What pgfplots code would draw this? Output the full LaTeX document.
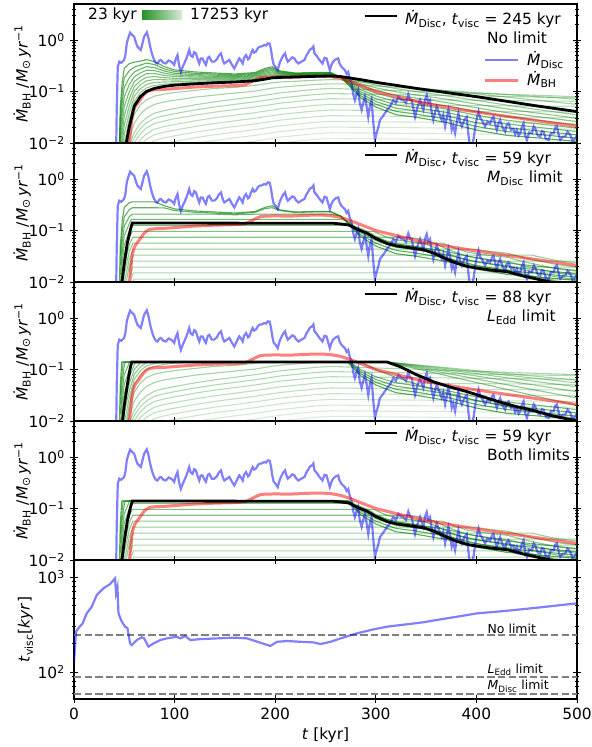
\documentclass[border=0pt]{standalone}
\usepackage{fontspec}
\setmainfont{DejaVu Sans}
\usepackage{pgfplots}
\usepackage{pgfplotstable}
\pgfplotsset{compat=1.18}

\definecolor{grn}{RGB}{0,128,0}
\definecolor{dashgray}{RGB}{128,128,128}
\newcommand{\Mdot}{\textit{Ṁ}}

% inflow rate onto the disc (shared by the four rate panels)
\pgfplotstableread{
t v
41.5 0.002
42.5 0.05
43.5 0.3
45 0.38
47 0.36
49.8 0.41
51 0.5
52.5 0.87
54 1.1
55.8 1.39
57 1.3
59.8 1.16
61.5 0.9
63.1 0.74
65 0.68
66.4 0.64
68 0.85
69.7 1.16
72.4 1.41
74 1.1
75.7 0.74
78 0.5
79.7 0.41
81.5 0.36
83 0.35
85 0.4
86.3 0.41
89 0.36
91.3 0.35
94 0.4
96.3 0.38
98 0.36
99.6 0.33
101 0.42
102.9 0.51
104.5 0.32
106.2 0.24
108 0.3
109.6 0.35
112 0.45
114.5 0.64
116 0.5
117.9 0.47
119.5 0.58
121.2 0.55
123 0.42
124.5 0.35
126 0.44
127.8 0.44
129.5 0.37
131.1 0.33
133 0.45
134.5 0.47
137 0.38
139.4 0.38
142 0.42
144 0.5
146.1 0.55
148 0.4
149.4 0.35
152 0.38
154.4 0.41
157 0.33
159.4 0.28
162 0.36
164.3 0.44
166 0.4
167.7 0.35
169 0.45
171 0.51
173 0.42
174.3 0.44
176 0.55
177.6 0.64
179 0.57
180.9 0.6
183 0.7
184.3 0.74
186.5 0.75
189.2 0.8
191 0.78
192.6 0.86
194.5 0.85
195.9 0.64
197 0.45
198.5 0.33
200.5 0.3
202.5 0.26
204.5 0.36
206.5 0.44
208 0.5
209.8 0.55
211 0.45
212.5 0.38
215 0.42
217 0.46
219.1 0.44
221 0.38
223.1 0.35
226 0.38
229.1 0.41
231 0.5
232.4 0.55
234.5 0.65
236.4 0.68
238 0.75
239 0.55
241 0.5
244 0.41
247 0.35
249 0.45
251 0.44
254.3 0.26
256 0.33
257.6 0.38
260 0.42
262.6 0.44
264 0.35
265.9 0.3
267.5 0.28
269.3 0.26
271 0.22
272.6 0.24
274 0.18
275.9 0.144
277.5 0.09
279.2 0.068
281 0.09
282.5 0.107
284 0.06
285.9 0.044
287.5 0.06
289.2 0.079
291 0.05
292.5 0.032
294 0.05
295.8 0.068
297.5 0.025
299.1 0.0115
300.8 0.0155
302.5 0.02
304.1 0.028
306.5 0.032
309.1 0.038
311.5 0.045
314.1 0.051
317.4 0.068
320 0.06
322.4 0.079
325 0.07
327.4 0.068
330 0.06
332.3 0.088
334 0.07
335.7 0.068
337.5 0.045
339 0.032
341.5 0.05
344 0.068
345.5 0.055
347.3 0.044
349 0.07
350.6 0.085
352 0.06
353.9 0.068
355.5 0.04
357.2 0.028
359 0.04
360.6 0.051
362.5 0.04
365.5 0.028
367 0.035
368.9 0.021
370.5 0.03
372.2 0.044
374 0.03
375.5 0.018
377 0.022
378.8 0.0155
380.5 0.025
382.1 0.038
384 0.025
385.5 0.021
388 0.028
390.4 0.032
392 0.015
393.8 0.008
395.5 0.009
397.1 0.0115
399.5 0.025
402.1 0.041
404 0.03
405.4 0.028
407 0.024
408.7 0.021
411 0.026
413.7 0.024
415.5 0.03
417 0.032
419 0.022
420.3 0.018
422 0.024
423.6 0.028
426 0.02
428.6 0.0166
430 0.022
431.9 0.024
434.5 0.018
436.9 0.019
438.5 0.015
440.2 0.018
442 0.014
443.6 0.0155
445 0.02
446.9 0.024
448.5 0.014
450.2 0.0115
452.5 0.016
455.2 0.0155
457 0.021
458.5 0.019
461 0.014
463.5 0.0133
465 0.017
466.8 0.0166
469 0.012
471.8 0.0115
474 0.0155
476.8 0.0155
478.5 0.02
480.1 0.021
482 0.014
483.4 0.0115
486 0.0133
488.4 0.0133
490.5 0.0166
493.4 0.0143
495.5 0.011
498.3 0.0123
500 0.0143
}\disctab

% accretion rate onto the black hole
\pgfplotstableread{
t v
50 0.002
54 0.006
56 0.015
57.5 0.03
59 0.042
61 0.052
63 0.058
66 0.07
69 0.085
72 0.097
75 0.105
80 0.108
90 0.11
100 0.114
120 0.122
140 0.127
160 0.13
170 0.135
175 0.15
180 0.168
185 0.185
190 0.19
200 0.192
215 0.19
230 0.197
245 0.2
255 0.195
265 0.18
275 0.155
285 0.13
300 0.1
320 0.08
350 0.058
400 0.04
450 0.029
500 0.021
}\bhtab

% viscous time fitted at each snapshot
\pgfplotstableread{
t v
0 128
2 266
4.3 288
8.6 325
12.6 414
17.6 486
22.6 646
29.2 760
35.9 843
40.8 968
41.8 676
43.2 780
44.2 414
47.5 339
50.8 300
53.1 290
55.8 200
57.4 192
59.1 200
62.4 217
67.4 232
69.7 226
74 185
79 200
85.7 217
92.3 226
99 232
102.3 235
105.6 226
110.6 239
115.6 217
125.5 222
142.1 226
158.7 230
172 226
181.9 209
195.2 188
201.8 208
211.8 212
225.1 208
238 205
245 197
255 208
265 226
281 255
297.8 281
311 300
331 318
347.4 334
360.6 353
380.6 382
400.4 414
430.2 441
463.3 479
499.7 528
}\tvisctab

\tikzset{
  gline/.style={grn, line width=1.1bp, opacity=#1},
  discline/.style={blue, opacity=0.5, line width=2.2bp},
  bhline/.style={red, opacity=0.5, line width=3bp},
  fitline/.style={black, line width=2.8bp},
  dashline/.style={dashgray, line width=2bp, dash pattern=on 7.4bp off 3.2bp},
}

\pgfplotsset{
  every axis/.append style={
    scale only axis, width=503bp, height=139bp,
    xmin=0, xmax=500,
    xtick={0,100,200,300,400,500},
    xtick pos=left, ytick pos=both,
    tick align=center,
    major tick length=8bp, minor tick length=4.5bp,
    tick style={black, line width=0.8bp},
    axis line style={line width=1.1bp},
  },
}

\newcommand{\ratelabel}{\Mdot\textsubscript{BH} /\textit{M}\textsubscript{⊙}\,\textit{yr}\textsuperscript{−1}}

\begin{document}
\fontsize{15.5}{18}\selectfont
\begin{tikzpicture}
\path[use as bounding box] (0,0) rectangle (592bp,-747bp);

% ---------------- panel 1: no limit ----------------
\begin{axis}[at={(74bp,-143bp)}, anchor=south west, ymode=log, ymin=0.01, ymax=5,
    ytick={0.01,0.1,1},
    yticklabels={10\textsuperscript{−2},10\textsuperscript{−1},10\textsuperscript{0}},
    minor ytick={0.02,0.03,0.04,0.05,0.06,0.07,0.08,0.09,0.2,0.3,0.4,0.5,0.6,0.7,0.8,0.9,2,3,4},
    xticklabels={}, ylabel={\ratelabel},
    ylabel style={at={(axis description cs:-0.103,0.5)}, anchor=center}]
\addplot[gline=0.14] coordinates {(100,0.005)(120,0.00589)(140,0.00677)(160,0.00759)(180,0.00851)(190,0.00911)(197,0.00954)(205,0.0101)(220,0.0108)(240,0.0118)(255,0.0123)(500,0.0112)};
\addplot[gline=0.16] coordinates {(72,0.00425)(80,0.00523)(90,0.00588)(100,0.00643)(120,0.00757)(140,0.00869)(160,0.00975)(180,0.0109)(190,0.0117)(197,0.0123)(205,0.013)(220,0.0139)(240,0.0152)(255,0.0158)(500,0.0145)};
\addplot[gline=0.18] coordinates {(66,0.00426)(72,0.00549)(80,0.00675)(90,0.00759)(100,0.0083)(120,0.00977)(140,0.0112)(160,0.0126)(180,0.0141)(190,0.0151)(197,0.0158)(205,0.0167)(220,0.0179)(240,0.0196)(255,0.0204)(500,0.0186)};
\addplot[gline=0.20] coordinates {(60,0.00371)(66,0.0055)(72,0.00707)(80,0.0087)(90,0.0098)(100,0.0107)(120,0.0126)(140,0.0145)(160,0.0162)(180,0.0182)(190,0.0195)(197,0.0204)(205,0.0216)(220,0.0231)(240,0.0252)(255,0.0263)(500,0.024)};
\addplot[gline=0.22] coordinates {(60,0.00478)(66,0.00709)(72,0.00912)(80,0.0112)(90,0.0126)(100,0.0138)(120,0.0162)(140,0.0186)(160,0.0209)(180,0.0235)(190,0.0251)(197,0.0263)(205,0.0278)(220,0.0298)(240,0.0325)(255,0.0339)(500,0.0309)};
\addplot[gline=0.25] coordinates {(55,0.00347)(60,0.00616)(66,0.00913)(72,0.0118)(80,0.0145)(90,0.0163)(100,0.0178)(120,0.0209)(140,0.024)(160,0.027)(180,0.0302)(190,0.0324)(197,0.0339)(205,0.0358)(220,0.0384)(240,0.0419)(255,0.0437)(500,0.0398)};
\addplot[gline=0.27] coordinates {(55,0.00446)(60,0.00792)(66,0.0117)(72,0.0151)(80,0.0186)(90,0.0209)(100,0.0229)(120,0.0269)(140,0.0309)(160,0.0347)(180,0.0389)(190,0.0416)(197,0.0436)(205,0.0461)(220,0.0494)(240,0.0539)(255,0.0562)(500,0.0513)};
\addplot[gline=0.29] coordinates {(50,0.00219)(55,0.00575)(60,0.0102)(66,0.0151)(72,0.0195)(80,0.024)(90,0.0269)(100,0.0295)(120,0.0347)(140,0.0398)(160,0.0447)(180,0.0501)(190,0.0536)(197,0.0562)(205,0.0594)(220,0.0636)(240,0.0694)(255,0.0724)(500,0.0646)};
\addplot[gline=0.31] coordinates {(50,0.00275)(55,0.00724)(60,0.0129)(66,0.0191)(72,0.0245)(80,0.0302)(90,0.0339)(100,0.0371)(120,0.0437)(140,0.0502)(160,0.0563)(180,0.0631)(190,0.0676)(197,0.0708)(205,0.0748)(220,0.0802)(240,0.0875)(255,0.0912)(500,0.0759)};
\addplot[gline=0.33] coordinates {(46,0.00057)(48,0.00173)(50,0.00347)(55,0.00912)(60,0.0162)(66,0.024)(72,0.0309)(80,0.038)(90,0.0427)(100,0.0467)(120,0.055)(140,0.0631)(160,0.0708)(180,0.0794)(190,0.0851)(197,0.0891)(205,0.0941)(220,0.1009)(240,0.110)(255,0.1148)(500,0.0794)};
\addplot[gline=0.35] coordinates {(48,0.002)(50,0.0044)(55,0.0123)(60,0.0245)(66,0.0363)(72,0.0468)(80,0.0562)(90,0.0631)(100,0.0676)(120,0.0776)(140,0.0851)(160,0.0933)(180,0.102)(190,0.110)(197,0.116)(205,0.121)(220,0.128)(240,0.137)(255,0.141)(270,0.140)(500,0.0708)};
\addplot[gline=0.37] coordinates {(46,0.00085)(48,0.0023)(50,0.0052)(55,0.0162)(60,0.0363)(66,0.055)(72,0.0692)(80,0.0813)(90,0.0891)(100,0.0955)(120,0.105)(140,0.115)(160,0.120)(180,0.132)(190,0.141)(197,0.148)(205,0.153)(220,0.158)(240,0.166)(255,0.170)(265,0.168)(500,0.0562)};
\addplot[gline=0.39] coordinates {(46,0.001)(48,0.0025)(50,0.0063)(55,0.0209)(60,0.0525)(66,0.0794)(72,0.1)(80,0.115)(90,0.126)(100,0.133)(120,0.141)(140,0.148)(160,0.153)(180,0.162)(190,0.174)(197,0.184)(205,0.188)(220,0.191)(240,0.197)(255,0.200)(265,0.195)(275,0.182)(285,0.170)(300,0.151)(320,0.132)(340,0.115)(370,0.0955)(400,0.0794)(430,0.0646)(460,0.0525)(500,0.0407)};
\addplot[gline=0.41] coordinates {(46,0.0016)(48,0.004)(50,0.0096)(55,0.0286)(60,0.0652)(66,0.0948)(72,0.117)(80,0.131)(90,0.139)(100,0.144)(120,0.150)(140,0.155)(160,0.159)(180,0.169)(190,0.183)(197,0.195)(205,0.195)(220,0.195)(240,0.201)(255,0.203)(265,0.195)(275,0.174)(285,0.155)(300,0.134)(320,0.114)(340,0.0995)(370,0.0824)(400,0.0673)(430,0.0546)(460,0.0448)(500,0.0352)};
\addplot[gline=0.44] coordinates {(46,0.0024)(48,0.0063)(50,0.0147)(55,0.039)(60,0.081)(66,0.113)(72,0.137)(80,0.150)(90,0.153)(100,0.155)(120,0.159)(140,0.163)(160,0.166)(180,0.176)(190,0.194)(197,0.206)(205,0.201)(220,0.199)(240,0.205)(255,0.207)(265,0.194)(275,0.166)(285,0.142)(300,0.118)(320,0.0985)(340,0.0863)(370,0.0710)(400,0.0570)(430,0.0460)(460,0.0382)(500,0.0303)};
\addplot[gline=0.47] coordinates {(46,0.0037)(48,0.010)(50,0.0224)(55,0.0533)(60,0.101)(66,0.135)(72,0.161)(80,0.171)(90,0.169)(100,0.167)(120,0.169)(140,0.171)(160,0.173)(180,0.183)(190,0.204)(197,0.217)(205,0.207)(220,0.203)(240,0.209)(255,0.210)(265,0.194)(275,0.158)(285,0.130)(300,0.105)(320,0.0851)(340,0.0747)(370,0.0612)(400,0.0482)(430,0.0389)(460,0.0326)(500,0.0261)};
\addplot[gline=0.50] coordinates {(44,0.001)(46,0.0057)(48,0.0158)(50,0.0341)(55,0.0728)(60,0.125)(66,0.161)(72,0.189)(80,0.195)(90,0.186)(100,0.180)(120,0.179)(140,0.180)(160,0.180)(180,0.191)(190,0.215)(197,0.230)(205,0.214)(220,0.207)(240,0.213)(255,0.214)(265,0.193)(275,0.151)(285,0.119)(300,0.0926)(320,0.0736)(340,0.0647)(370,0.0527)(400,0.0408)(430,0.0329)(460,0.0278)(500,0.0225)};
\addplot[gline=0.53] coordinates {(44,0.001)(46,0.0088)(48,0.025)(50,0.0521)(55,0.0995)(60,0.156)(66,0.192)(72,0.221)(80,0.223)(90,0.205)(100,0.195)(120,0.190)(140,0.189)(160,0.187)(180,0.199)(190,0.227)(197,0.242)(205,0.221)(220,0.211)(240,0.217)(255,0.218)(265,0.193)(275,0.145)(285,0.109)(300,0.0819)(320,0.0636)(340,0.0561)(370,0.0455)(400,0.0346)(430,0.0277)(460,0.0238)(500,0.0194)};
\addplot[gline=0.56] coordinates {(44,0.001)(46,0.0136)(48,0.040)(50,0.0794)(55,0.136)(60,0.194)(66,0.229)(72,0.259)(80,0.255)(90,0.226)(100,0.210)(120,0.201)(140,0.198)(160,0.194)(180,0.207)(190,0.240)(197,0.256)(205,0.228)(220,0.215)(240,0.221)(255,0.222)(265,0.192)(275,0.138)(285,0.0993)(300,0.0724)(320,0.0550)(340,0.0486)(370,0.0392)(400,0.0293)(430,0.0234)(460,0.0203)(500,0.0167)};
\addplot[gline=0.59] coordinates {(44,0.001)(46,0.021)(48,0.063)(50,0.121)(55,0.186)(60,0.240)(66,0.273)(72,0.303)(80,0.291)(90,0.249)(100,0.226)(120,0.213)(140,0.208)(160,0.202)(180,0.216)(190,0.253)(197,0.270)(205,0.236)(220,0.220)(240,0.225)(255,0.226)(265,0.192)(275,0.132)(285,0.0908)(300,0.0641)(320,0.0475)(340,0.0421)(370,0.0338)(400,0.0248)(430,0.0198)(460,0.0173)(500,0.0144)};
\addplot[gline=0.62] coordinates {(44,0.001)(46,0.0324)(48,0.1)(50,0.185)(55,0.254)(60,0.299)(66,0.326)(72,0.356)(80,0.333)(90,0.274)(100,0.244)(120,0.226)(140,0.218)(160,0.210)(180,0.225)(190,0.267)(197,0.286)(205,0.243)(220,0.224)(240,0.230)(255,0.230)(265,0.191)(275,0.126)(285,0.0830)(300,0.0567)(320,0.0411)(340,0.0365)(370,0.0291)(400,0.0210)(430,0.0167)(460,0.0148)(500,0.0124)};
\addplot[gline=0.66] coordinates {(44,0.001)(46,0.050)(48,0.158)(50,0.282)(55,0.347)(60,0.372)(66,0.389)(72,0.417)(80,0.380)(90,0.302)(100,0.263)(120,0.240)(140,0.229)(160,0.219)(180,0.234)(190,0.282)(197,0.302)(205,0.251)(220,0.229)(240,0.234)(255,0.234)(265,0.191)(275,0.120)(285,0.0759)(300,0.0501)(320,0.0355)(340,0.0316)(370,0.0251)(400,0.0178)(430,0.0141)(460,0.0126)(500,0.0107)};
\addplot[discline] table[x=t,y=v] {\disctab};
\addplot[bhline] table[x=t,y=v] {\bhtab};
\addplot[fitline] coordinates {(46,0.001)(48,0.0025)(50,0.0063)(55,0.0209)(60,0.0525)(66,0.0794)(72,0.1)(80,0.115)(90,0.126)(100,0.133)(120,0.141)(140,0.148)(160,0.153)(180,0.162)(190,0.174)(197,0.184)(205,0.188)(220,0.191)(240,0.197)(255,0.200)(265,0.195)(275,0.182)(285,0.170)(300,0.151)(320,0.132)(340,0.115)(370,0.0955)(400,0.0794)(430,0.0646)(460,0.0525)(500,0.0407)};
\draw[fitline] (rel axis cs:0.5785,0.914) -- (rel axis cs:0.642,0.914);
\node[anchor=base west, inner sep=0pt] at (rel axis cs:0.658,0.856) {\Mdot\textsubscript{Disc}, \textit{t}\textsubscript{visc} = 245 kyr};
\node[anchor=base west, inner sep=0pt] at (rel axis cs:0.821,0.719) {No limit};
\draw[discline] (rel axis cs:0.817,0.597) -- (rel axis cs:0.883,0.597);
\node[anchor=base west, inner sep=0pt] at (rel axis cs:0.9006,0.561) {\Mdot\textsubscript{Disc}};
\draw[bhline] (rel axis cs:0.817,0.453) -- (rel axis cs:0.883,0.453);
\node[anchor=base west, inner sep=0pt] at (rel axis cs:0.9006,0.417) {\Mdot\textsubscript{BH}};
\end{axis}

% ---------------- panel 2: disc-mass limit ----------------
\begin{axis}[at={(74bp,-282bp)}, anchor=south west, ymode=log, ymin=0.01, ymax=5,
    ytick={0.01,0.1,1},
    yticklabels={10\textsuperscript{−2},10\textsuperscript{−1},10\textsuperscript{0}},
    minor ytick={0.02,0.03,0.04,0.05,0.06,0.07,0.08,0.09,0.2,0.3,0.4,0.5,0.6,0.7,0.8,0.9,2,3,4},
    xticklabels={}, ylabel={\ratelabel},
    ylabel style={at={(axis description cs:-0.103,0.5)}, anchor=center}]
\addplot[gline=0.31] coordinates {(55,0.0072)(59.5,0.0114)(500,0.0114)};
\addplot[gline=0.33] coordinates {(55,0.0091)(59,0.015)(500,0.015)};
\addplot[gline=0.35] coordinates {(55,0.0123)(58.5,0.0195)(500,0.0195)};
\addplot[gline=0.37] coordinates {(55,0.0162)(58,0.0255)(500,0.0255)};
\addplot[gline=0.39] coordinates {(50,0.0063)(55,0.0209)(59,0.0333)(455,0.0333)(464,0.0303)(480,0.0261)(500,0.0234)};
\addplot[gline=0.41] coordinates {(50,0.0096)(55,0.0286)(59,0.0435)(398,0.0435)(401,0.0426)(415,0.0389)(431,0.0362)(447,0.0298)(464,0.0252)(480,0.0218)(500,0.0195)};
\addplot[gline=0.44] coordinates {(48,0.0063)(50,0.0147)(55,0.039)(58.5,0.057)(366,0.057)(370,0.0533)(381,0.0438)(391,0.0381)(401,0.0354)(415,0.0324)(431,0.0301)(447,0.0248)(464,0.021)(480,0.0181)(500,0.0162)};
\addplot[gline=0.47] coordinates {(48,0.010)(50,0.0224)(55,0.0533)(58.5,0.074)(333,0.074)(335,0.0729)(348,0.0666)(358,0.0571)(370,0.0444)(381,0.0365)(391,0.0317)(401,0.0295)(415,0.0269)(431,0.025)(447,0.0206)(464,0.0174)(480,0.0151)(500,0.0135)};
\addplot[gline=0.50] coordinates {(48,0.0158)(50,0.0341)(55,0.0728)(58,0.0965)(297,0.0965)(300,0.0923)(311,0.0738)(321,0.0659)(335,0.0606)(348,0.0554)(358,0.0474)(370,0.0369)(381,0.0303)(391,0.0264)(401,0.0245)(415,0.0224)(431,0.0208)(447,0.0171)(464,0.0145)(480,0.0125)(500,0.0112)};
\addplot[gline=0.53] coordinates {(46,0.0088)(48,0.025)(50,0.0521)(55,0.0995)(58,0.126)(273,0.126)(282,0.115)(291.5,0.0965)(300,0.0767)(311,0.0614)(321,0.0548)(335,0.0504)(348,0.046)(358,0.0395)(370,0.0307)(381,0.0252)(391,0.0219)(401,0.0204)(415,0.0186)(431,0.0173)(447,0.0142)(464,0.0121)(480,0.0104)(500,0.0093)};
\addplot[gline=0.56] coordinates {(46,0.0136)(48,0.040)(50,0.0794)(55,0.136)(57,0.164)(268,0.164)(275,0.138)(285,0.0993)(300,0.0724)(320,0.0550)(340,0.0486)(370,0.0392)(400,0.0293)(430,0.0234)(460,0.0203)(500,0.0167)};
\addplot[gline=0.59] coordinates {(46,0.021)(48,0.063)(50,0.121)(55,0.186)(58,0.2075)(140,0.2075)(160,0.202)(180,0.2075)(255,0.2075)(265,0.192)(275,0.132)(285,0.0908)(300,0.0641)(320,0.0475)(340,0.0421)(370,0.0338)(400,0.0248)(430,0.0198)(460,0.0173)(500,0.0144)};
\addplot[gline=0.62] coordinates {(46,0.0324)(48,0.1)(50,0.185)(55,0.254)(58,0.277)(80,0.277)(90,0.274)(100,0.244)(120,0.226)(140,0.218)(160,0.210)(180,0.225)(190,0.267)(197,0.277)(205,0.243)(220,0.224)(240,0.230)(255,0.230)(265,0.191)(275,0.126)(285,0.0830)(300,0.0567)(320,0.0411)(340,0.0365)(370,0.0291)(400,0.0210)(430,0.0167)(460,0.0148)(500,0.0124)};
\addplot[gline=0.66] coordinates {(44,0.001)(46,0.050)(48,0.158)(50,0.282)(55,0.347)(58,0.36)(80,0.36)(90,0.302)(100,0.263)(120,0.240)(140,0.229)(160,0.219)(180,0.234)(190,0.282)(197,0.302)(205,0.251)(220,0.229)(240,0.234)(255,0.234)(265,0.191)(275,0.120)(285,0.0759)(300,0.0501)(320,0.0355)(340,0.0316)(370,0.0251)(400,0.0178)(430,0.0141)(460,0.0126)(500,0.0107)};
\addplot[discline] table[x=t,y=v] {\disctab};
\addplot[bhline] table[x=t,y=v] {\bhtab};
\addplot[fitline] coordinates {(46,0.001)(47,0.008)(50,0.023)(53,0.057)(56.5,0.112)(58,0.14)(258,0.138)(265,0.134)(273,0.128)(282,0.105)(291.5,0.088)(300,0.07)(311,0.056)(321,0.05)(335,0.046)(348,0.042)(358,0.036)(370,0.028)(381,0.023)(391,0.02)(401,0.0186)(415,0.017)(431,0.0158)(447,0.013)(464,0.011)(480,0.0095)(500,0.0085)};
\draw[fitline] (rel axis cs:0.5785,0.914) -- (rel axis cs:0.642,0.914);
\node[anchor=base west, inner sep=0pt] at (rel axis cs:0.658,0.856) {\Mdot\textsubscript{Disc}, \textit{t}\textsubscript{visc} = 59 kyr};
\node[anchor=base west, inner sep=0pt] at (rel axis cs:0.821,0.719) {\textit{M}\textsubscript{Disc} limit};
\end{axis}

% ---------------- panel 3: Eddington limit ----------------
\begin{axis}[at={(74bp,-421bp)}, anchor=south west, ymode=log, ymin=0.01, ymax=5,
    ytick={0.01,0.1,1},
    yticklabels={10\textsuperscript{−2},10\textsuperscript{−1},10\textsuperscript{0}},
    minor ytick={0.02,0.03,0.04,0.05,0.06,0.07,0.08,0.09,0.2,0.3,0.4,0.5,0.6,0.7,0.8,0.9,2,3,4},
    xticklabels={}, ylabel={\ratelabel},
    ylabel style={at={(axis description cs:-0.103,0.5)}, anchor=center}]
\addplot[gline=0.14] coordinates {(100,0.005)(120,0.00589)(140,0.00677)(160,0.00759)(180,0.00851)(190,0.00911)(197,0.00954)(205,0.0101)(220,0.0108)(240,0.0118)(255,0.0123)(500,0.0112)};
\addplot[gline=0.16] coordinates {(72,0.00425)(80,0.00523)(90,0.00588)(100,0.00643)(120,0.00757)(140,0.00869)(160,0.00975)(180,0.0109)(190,0.0117)(197,0.0123)(205,0.013)(220,0.0139)(240,0.0152)(255,0.0158)(500,0.0145)};
\addplot[gline=0.18] coordinates {(66,0.00426)(72,0.00549)(80,0.00675)(90,0.00759)(100,0.0083)(120,0.00977)(140,0.0112)(160,0.0126)(180,0.0141)(190,0.0151)(197,0.0158)(205,0.0167)(220,0.0179)(240,0.0196)(255,0.0204)(500,0.0186)};
\addplot[gline=0.20] coordinates {(60,0.00371)(66,0.0055)(72,0.00707)(80,0.0087)(90,0.0098)(100,0.0107)(120,0.0126)(140,0.0145)(160,0.0162)(180,0.0182)(190,0.0195)(197,0.0204)(205,0.0216)(220,0.0231)(240,0.0252)(255,0.0263)(500,0.024)};
\addplot[gline=0.22] coordinates {(60,0.00478)(66,0.00709)(72,0.00912)(80,0.0112)(90,0.0126)(100,0.0138)(120,0.0162)(140,0.0186)(160,0.0209)(180,0.0235)(190,0.0251)(197,0.0263)(205,0.0278)(220,0.0298)(240,0.0325)(255,0.0339)(500,0.0309)};
\addplot[gline=0.25] coordinates {(55,0.00347)(60,0.00616)(66,0.00913)(72,0.0118)(80,0.0145)(90,0.0163)(100,0.0178)(120,0.0209)(140,0.024)(160,0.027)(180,0.0302)(190,0.0324)(197,0.0339)(205,0.0358)(220,0.0384)(240,0.0419)(255,0.0437)(500,0.0398)};
\addplot[gline=0.27] coordinates {(55,0.00446)(60,0.00792)(66,0.0117)(72,0.0151)(80,0.0186)(90,0.0209)(100,0.0229)(120,0.0269)(140,0.0309)(160,0.0347)(180,0.0389)(190,0.0416)(197,0.0436)(205,0.0461)(220,0.0494)(240,0.0539)(255,0.0562)(500,0.0513)};
\addplot[gline=0.29] coordinates {(50,0.00219)(55,0.00575)(60,0.0102)(66,0.0151)(72,0.0195)(80,0.024)(90,0.0269)(100,0.0295)(120,0.0347)(140,0.0398)(160,0.0447)(180,0.0501)(190,0.0536)(197,0.0562)(205,0.0594)(220,0.0636)(240,0.0694)(255,0.0724)(500,0.0646)};
\addplot[gline=0.31] coordinates {(50,0.00275)(55,0.00724)(60,0.0129)(66,0.0191)(72,0.0245)(80,0.0302)(90,0.0339)(100,0.0371)(120,0.0437)(140,0.0502)(160,0.0563)(180,0.0631)(190,0.0676)(197,0.0708)(205,0.0748)(220,0.0802)(240,0.0875)(255,0.0912)(500,0.0759)};
\addplot[gline=0.33] coordinates {(46,0.00057)(48,0.00173)(50,0.00347)(55,0.00912)(60,0.0162)(66,0.024)(72,0.0309)(80,0.038)(90,0.0427)(100,0.0467)(120,0.055)(140,0.0631)(160,0.0708)(180,0.0794)(190,0.0851)(197,0.0891)(205,0.0941)(220,0.1009)(240,0.110)(255,0.1148)(500,0.0794)};
\addplot[gline=0.35] coordinates {(48,0.002)(50,0.0044)(55,0.0123)(60,0.0245)(66,0.0363)(72,0.0468)(80,0.0562)(90,0.0631)(100,0.0676)(120,0.0776)(140,0.0851)(160,0.0933)(180,0.102)(190,0.110)(197,0.116)(205,0.121)(220,0.128)(240,0.137)(250,0.14)(311,0.14)(500,0.062)};
\addplot[gline=0.37] coordinates {(48,0.0023)(50,0.0052)(55,0.0162)(60,0.0363)(66,0.055)(72,0.0692)(80,0.0813)(90,0.0891)(100,0.0955)(120,0.105)(140,0.115)(160,0.120)(180,0.132)(188,0.14)(311,0.14)(500,0.055)};
\addplot[gline=0.39] coordinates {(48,0.0025)(50,0.0063)(55,0.0209)(60,0.0525)(66,0.0794)(72,0.1)(80,0.115)(90,0.126)(100,0.133)(118,0.14)(311,0.14)(500,0.046)};
\addplot[gline=0.41] coordinates {(46,0.0016)(48,0.004)(50,0.0096)(55,0.0286)(60,0.0652)(66,0.0948)(72,0.117)(80,0.131)(90,0.139)(92,0.14)(311,0.14)(500,0.037)};
\addplot[gline=0.44] coordinates {(46,0.0024)(48,0.0063)(50,0.0147)(55,0.039)(60,0.081)(66,0.113)(72,0.137)(74,0.14)(311,0.14)(500,0.028)};
\addplot[gline=0.47] coordinates {(46,0.0037)(48,0.010)(50,0.0224)(55,0.0533)(60,0.101)(66,0.135)(68,0.14)(311,0.14)(500,0.02)};
\addplot[gline=0.50] coordinates {(46,0.0057)(48,0.0158)(50,0.0341)(55,0.0728)(60,0.125)(62,0.14)(311,0.14)(325,0.112)(340,0.08)(358,0.057)(375,0.045)(391,0.037)(408,0.029)(424,0.023)(440,0.019)(457,0.016)(474,0.0128)(490,0.011)(502,0.0099)};
\addplot[gline=0.53] coordinates {(46,0.0088)(48,0.025)(50,0.0521)(55,0.0995)(58,0.14)(285,0.14)(300,0.1)(320,0.07)(350,0.045)(400,0.025)(450,0.016)(500,0.011)};
\addplot[gline=0.56] coordinates {(46,0.0136)(48,0.040)(50,0.0794)(55,0.136)(55.5,0.14)(274,0.14)(275,0.138)(285,0.0993)(300,0.0724)(320,0.0550)(340,0.0486)(370,0.0392)(400,0.0293)(430,0.0234)(460,0.0203)(500,0.0167)};
\addplot[gline=0.59] coordinates {(46,0.021)(48,0.063)(50,0.121)(51,0.14)(271,0.14)(275,0.132)(285,0.0908)(300,0.0641)(320,0.0475)(340,0.0421)(370,0.0338)(400,0.0248)(430,0.0198)(460,0.0173)(500,0.0144)};
\addplot[gline=0.62] coordinates {(46,0.0324)(48,0.1)(49,0.14)(273,0.14)(275,0.126)(285,0.0830)(300,0.0567)(320,0.0411)(340,0.0365)(370,0.0291)(400,0.0210)(430,0.0167)(460,0.0148)(500,0.0124)};
\addplot[gline=0.66] coordinates {(44,0.001)(46,0.050)(47.5,0.14)(272,0.14)(275,0.120)(285,0.0759)(300,0.0501)(320,0.0355)(340,0.0316)(370,0.0251)(400,0.0178)(430,0.0141)(460,0.0126)(500,0.0107)};
\addplot[discline] table[x=t,y=v] {\disctab};
\addplot[bhline] table[x=t,y=v] {\bhtab};
\addplot[fitline] coordinates {(45,0.001)(47,0.006)(50,0.02)(53,0.05)(56,0.11)(57.5,0.14)(311,0.14)(325,0.112)(340,0.08)(358,0.057)(375,0.045)(391,0.037)(408,0.029)(424,0.023)(440,0.019)(457,0.016)(474,0.0128)(490,0.011)(502,0.0099)};
\draw[fitline] (rel axis cs:0.5785,0.914) -- (rel axis cs:0.642,0.914);
\node[anchor=base west, inner sep=0pt] at (rel axis cs:0.658,0.856) {\Mdot\textsubscript{Disc}, \textit{t}\textsubscript{visc} = 88 kyr};
\node[anchor=base west, inner sep=0pt] at (rel axis cs:0.821,0.719) {\textit{L}\textsubscript{Edd} limit};
\end{axis}

% ---------------- panel 4: both limits ----------------
\begin{axis}[at={(74bp,-560bp)}, anchor=south west, ymode=log, ymin=0.01, ymax=5,
    ytick={0.01,0.1,1},
    yticklabels={10\textsuperscript{−2},10\textsuperscript{−1},10\textsuperscript{0}},
    minor ytick={0.02,0.03,0.04,0.05,0.06,0.07,0.08,0.09,0.2,0.3,0.4,0.5,0.6,0.7,0.8,0.9,2,3,4},
    xticklabels={}, ylabel={\ratelabel},
    ylabel style={at={(axis description cs:-0.103,0.5)}, anchor=center}]
\addplot[gline=0.31] coordinates {(55,0.0072)(59.5,0.0114)(500,0.0114)};
\addplot[gline=0.33] coordinates {(55,0.0091)(59,0.015)(500,0.015)};
\addplot[gline=0.35] coordinates {(55,0.0123)(58.5,0.0195)(500,0.0195)};
\addplot[gline=0.37] coordinates {(55,0.0162)(58,0.0255)(500,0.0255)};
\addplot[gline=0.39] coordinates {(50,0.0063)(55,0.0209)(59,0.0333)(455,0.0333)(464,0.0303)(480,0.0261)(500,0.0234)};
\addplot[gline=0.41] coordinates {(50,0.0096)(55,0.0286)(59,0.0435)(398,0.0435)(401,0.0426)(415,0.0389)(431,0.0362)(447,0.0298)(464,0.0252)(480,0.0218)(500,0.0195)};
\addplot[gline=0.44] coordinates {(48,0.0063)(50,0.0147)(55,0.039)(58.5,0.057)(366,0.057)(370,0.0533)(381,0.0438)(391,0.0381)(401,0.0354)(415,0.0324)(431,0.0301)(447,0.0248)(464,0.021)(480,0.0181)(500,0.0162)};
\addplot[gline=0.47] coordinates {(48,0.010)(50,0.0224)(55,0.0533)(58.5,0.074)(333,0.074)(335,0.0729)(348,0.0666)(358,0.0571)(370,0.0444)(381,0.0365)(391,0.0317)(401,0.0295)(415,0.0269)(431,0.025)(447,0.0206)(464,0.0174)(480,0.0151)(500,0.0135)};
\addplot[gline=0.50] coordinates {(48,0.0158)(50,0.0341)(55,0.0728)(58,0.0965)(297,0.0965)(300,0.0923)(311,0.0738)(321,0.0659)(335,0.0606)(348,0.0554)(358,0.0474)(370,0.0369)(381,0.0303)(391,0.0264)(401,0.0245)(415,0.0224)(431,0.0208)(447,0.0171)(464,0.0145)(480,0.0125)(500,0.0112)};
\addplot[gline=0.53] coordinates {(46,0.0088)(48,0.025)(50,0.0521)(55,0.0995)(58,0.126)(273,0.126)(282,0.115)(291.5,0.0965)(300,0.0767)(311,0.0614)(321,0.0548)(335,0.0504)(348,0.046)(358,0.0395)(370,0.0307)(381,0.0252)(391,0.0219)(401,0.0204)(415,0.0186)(431,0.0173)(447,0.0142)(464,0.0121)(480,0.0104)(500,0.0093)};
\addplot[gline=0.56] coordinates {(46,0.0136)(48,0.040)(50,0.0794)(55,0.136)(55.5,0.14)(274,0.14)(275,0.138)(285,0.0993)(300,0.0724)(320,0.0550)(340,0.0486)(370,0.0392)(400,0.0293)(430,0.0234)(460,0.0203)(500,0.0167)};
\addplot[gline=0.59] coordinates {(46,0.021)(48,0.063)(50,0.121)(51,0.14)(271,0.14)(275,0.132)(285,0.0908)(300,0.0641)(320,0.0475)(340,0.0421)(370,0.0338)(400,0.0248)(430,0.0198)(460,0.0173)(500,0.0144)};
\addplot[gline=0.62] coordinates {(46,0.0324)(48,0.1)(49,0.14)(273,0.14)(275,0.126)(285,0.0830)(300,0.0567)(320,0.0411)(340,0.0365)(370,0.0291)(400,0.0210)(430,0.0167)(460,0.0148)(500,0.0124)};
\addplot[gline=0.66] coordinates {(44,0.001)(46,0.050)(47.5,0.14)(272,0.14)(275,0.120)(285,0.0759)(300,0.0501)(320,0.0355)(340,0.0316)(370,0.0251)(400,0.0178)(430,0.0141)(460,0.0126)(500,0.0107)};
\addplot[discline] table[x=t,y=v] {\disctab};
\addplot[bhline] table[x=t,y=v] {\bhtab};
\addplot[fitline] coordinates {(46,0.001)(47,0.008)(50,0.023)(53,0.057)(56.5,0.112)(58,0.14)(258,0.138)(265,0.134)(273,0.128)(282,0.105)(291.5,0.088)(300,0.07)(311,0.056)(321,0.05)(335,0.046)(348,0.042)(358,0.036)(370,0.028)(381,0.023)(391,0.02)(401,0.0186)(415,0.017)(431,0.0158)(447,0.013)(464,0.011)(480,0.0095)(500,0.0085)};
\draw[fitline] (rel axis cs:0.5785,0.914) -- (rel axis cs:0.642,0.914);
\node[anchor=base west, inner sep=0pt] at (rel axis cs:0.658,0.856) {\Mdot\textsubscript{Disc}, \textit{t}\textsubscript{visc} = 59 kyr};
\node[anchor=base west, inner sep=0pt] at (rel axis cs:0.821,0.719) {Both limits};
\end{axis}

% ---------------- panel 5: viscous time ----------------
\begin{axis}[at={(74bp,-699bp)}, anchor=south west, ymode=log,
  ymin=52, ymax=1510, ytick={100,1000},
  yticklabels={10\textsuperscript{2},10\textsuperscript{3}},
  minor ytick={60,70,80,90,200,300,400,500,600,700,800,900},
  xticklabels={0,100,200,300,400,500},
  xlabel={\textit{t} [kyr]},
  xlabel style={at={(axis description cs:0.5,-0.259)}, anchor=center},
  ylabel={\textit{t}\textsubscript{visc}[\textit{kyr}]},
  ylabel style={at={(axis description cs:-0.0964,0.5)}, anchor=center}]
\addplot[dashline] coordinates {(0,245)(500,245)};
\addplot[dashline] coordinates {(0,88)(500,88)};
\addplot[dashline] coordinates {(0,59)(500,59)};
\addplot[discline] table[x=t,y=v] {\tvisctab};
\node[anchor=south west, inner sep=1pt, font=\fontsize{12.5}{14}\selectfont] at (axis cs:410,245) {No limit};
\node[anchor=south west, inner sep=1pt, font=\fontsize{12.5}{14}\selectfont] at (axis cs:410,88) {\textit{L}\textsubscript{Edd} limit};
\node[anchor=south west, inner sep=1pt, font=\fontsize{12.5}{14}\selectfont] at (axis cs:410,59) {\textit{M}\textsubscript{Disc} limit};
\end{axis}

% colour key for the viscous-time family
\node[anchor=base west, inner sep=0pt] at (88bp,-19bp) {23 kyr};
\foreach \i in {0,...,19} {
  \pgfmathsetmacro{\op}{0.85-0.035*\i}
  \draw[grn, line width=1.6bp, opacity=\op] ({143bp+2bp*\i},-10bp) -- ({143bp+2bp*\i},-20bp);
}
\node[anchor=base west, inner sep=0pt] at (190bp,-19bp) {17253 kyr};
\end{tikzpicture}
\end{document}
